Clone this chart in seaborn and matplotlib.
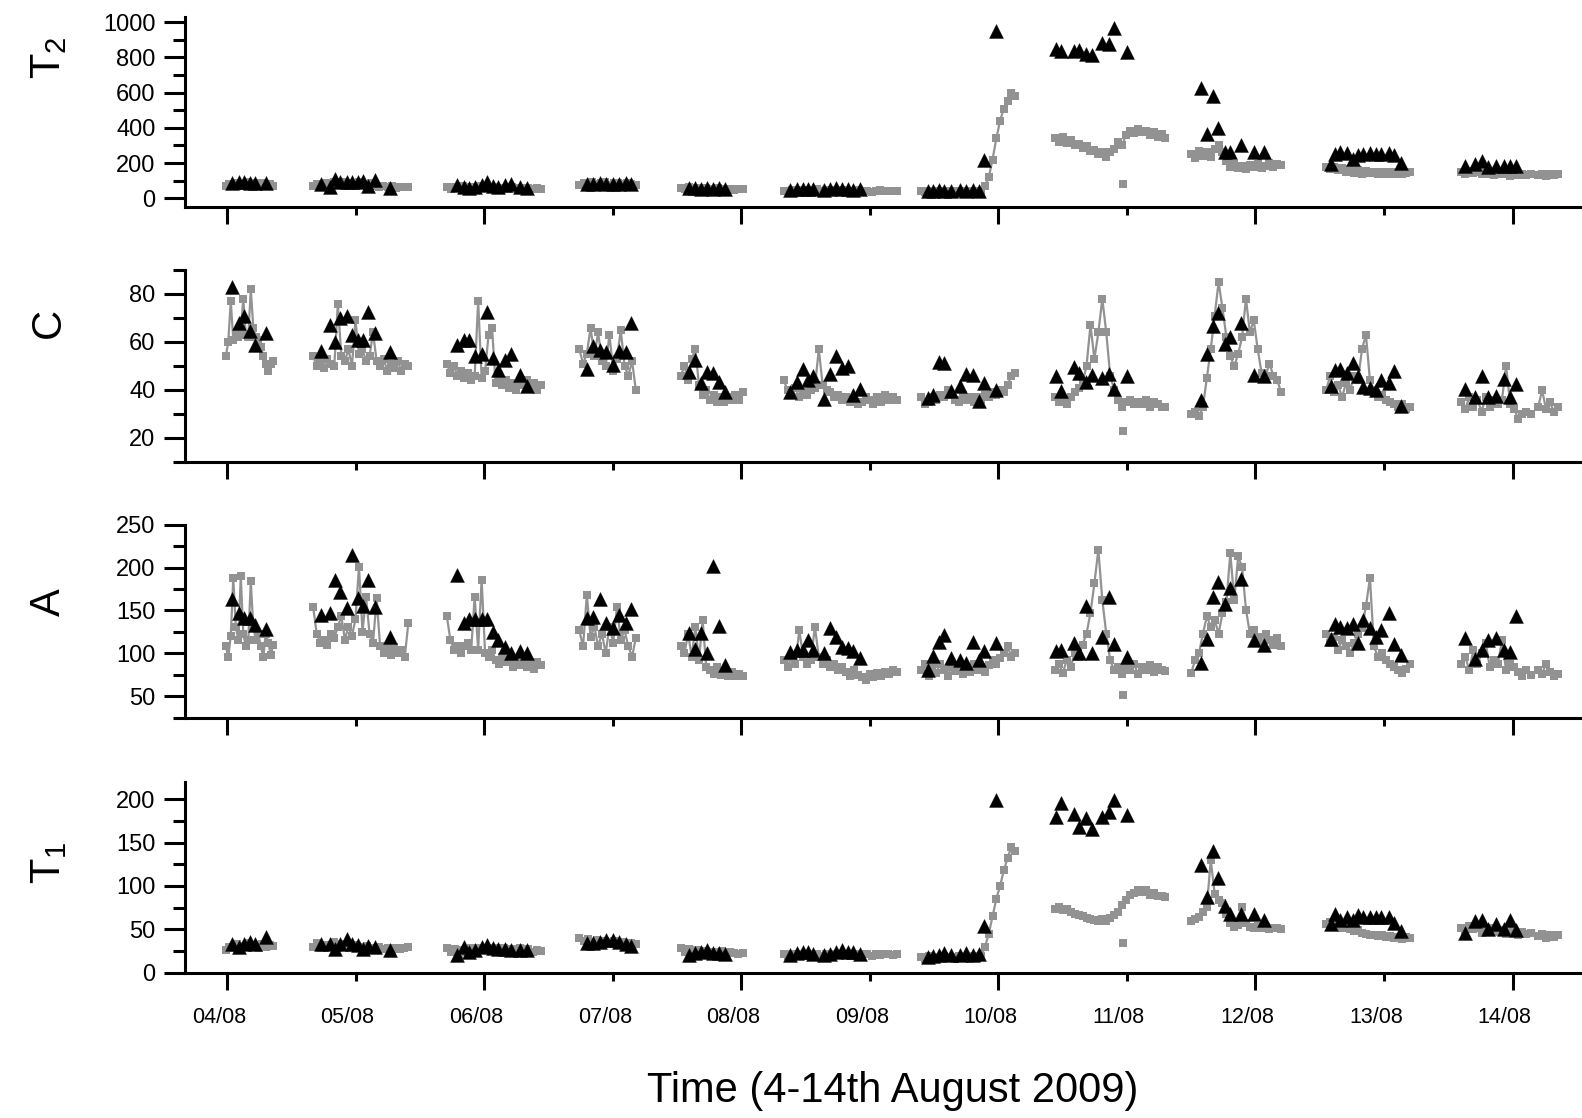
import numpy as np
import pandas as pd
import seaborn as sns
import matplotlib.pyplot as plt
import matplotlib.transforms as mtransforms
from matplotlib.ticker import MultipleLocator

# -----------------------------------------------
# Data (days of August 2009, fractional)
# -----------------------------------------------
day_ticks = [4, 5, 6, 7, 8, 9, 10, 11, 12, 13, 14]
day_labels = ['04/08', '05/08', '06/08', '07/08', '08/08', '09/08',
              '10/08', '11/08', '12/08', '13/08', '14/08']

# start / end of each continuous grey record (last one is a lone outlier)
seg_windows = [(3.99, 4.36), (4.67, 5.41), (5.71, 6.44), (6.74, 7.18),
               (7.53, 8.01), (8.33, 9.21), (9.40, 10.13), (10.44, 11.30),
               (11.50, 12.20), (12.55, 13.20), (13.60, 14.14), (14.20, 14.35),
               (10.97, 10.97)]

t2_grey = [
    [70, 82, 75, 88, 72, 80, 90, 76, 84, 78, 86, 74, 80, 72],
    [72, 80, 68, 85, 74, 90, 78, 95, 70, 88, 76, 92, 80, 74, 86, 70, 66, 72, 62, 68, 60, 66, 62, 64],
    [62, 55, 66, 58, 70, 54, 64, 60, 72, 56, 62, 58, 66, 52, 60, 55, 62, 50, 58, 54, 60, 52, 56, 54],
    [78, 88, 82, 92, 80, 86, 90, 78, 84, 88, 80, 86, 82, 76],
    [58, 52, 62, 55, 60, 50, 56, 54, 52, 56, 50, 54, 52, 48, 54, 50],
    [44, 40, 48, 42, 46, 38, 45, 42, 50, 40, 46, 44, 48, 42, 45, 40, 44, 42, 46, 40, 44, 38, 42, 45, 40, 44, 42, 40],
    [40, 36, 42, 38, 44, 36, 40, 38, 42, 36, 40, 44, 38, 42, 36, 40, 42, 70, 120, 220, 340, 440, 510, 555, 600, 580],
    [345, 320, 350, 315, 330, 300, 310, 285, 295, 270, 275, 250, 260, 235, 260, 280, 320, 300, 360, 385, 370, 395, 375, 385, 360, 375, 350, 365, 340],
    [250, 230, 270, 240, 260, 235, 280, 300, 260, 210, 180, 195, 170, 185, 165, 190, 175, 195, 170, 185, 200, 180, 195, 190],
    [180, 165, 175, 160, 170, 150, 165, 145, 160, 140, 155, 145, 150, 138, 152, 140, 148, 135, 150, 140, 145, 150],
    [150, 138, 155, 142, 150, 135, 145, 140, 130, 145, 135, 140, 128, 138, 132, 140, 130, 135],
    [130, 140, 125, 138, 130, 135],
    [80],
]

c_grey = [
    [54, 60, 77, 61, 64, 62, 65, 78, 63, 62, 82, 66, 62, 61, 58, 54, 51, 48, 51, 52],
    [54, 50, 52, 49, 53, 51, 50, 76, 54, 52, 57, 50, 69, 55, 57, 52, 54, 64, 52, 50, 53, 48, 51, 49, 52, 48, 51, 50],
    [51, 47, 50, 46, 48, 45, 47, 44, 46, 77, 45, 48, 63, 66, 43, 45, 42, 44, 41, 43, 40, 43, 42, 44, 41, 43, 40, 42],
    [57, 51, 55, 66, 54, 64, 52, 50, 63, 48, 53, 65, 50, 46, 52, 40],
    [46, 50, 44, 53, 57, 42, 38, 40, 36, 38, 35, 37, 35, 37, 36, 38, 36, 39],
    [44, 40, 38, 41, 37, 39, 38, 40, 41, 57, 42, 40, 39, 37, 38, 36, 37, 35, 36, 34, 35, 37, 36, 34, 37, 35, 38, 36, 37, 36],
    [37, 34, 35, 37, 36, 38, 37, 40, 38, 36, 35, 38, 36, 37, 35, 37, 36, 38, 37, 39, 38, 40, 39, 42, 46, 47],
    [37, 35, 36, 34, 37, 39, 41, 43, 50, 67, 53, 64, 78, 64, 46, 40, 36, 33, 35, 36, 34, 35, 34, 36, 33, 35, 34, 33, 33],
    [30, 31, 29, 33, 45, 57, 71, 85, 74, 62, 54, 50, 55, 62, 78, 64, 69, 57, 47, 46, 51, 46, 44, 39],
    [40, 46, 39, 42, 37, 43, 40, 46, 44, 57, 63, 44, 40, 37, 38, 36, 35, 34, 33, 34, 32, 33],
    [35, 32, 37, 33, 36, 31, 37, 33, 36, 34, 36, 50, 34, 32, 28, 30, 31, 30],
    [33, 40, 32, 35, 31, 33],
    [22.8],
]

a_grey = [
    [108, 96, 120, 188, 131, 116, 190, 123, 108, 115, 184, 131, 116, 123, 108, 96, 123, 112, 98, 110],
    [154, 123, 112, 116, 110, 123, 118, 131, 143, 116, 131, 120, 140, 201, 125, 166, 123, 112, 164, 108, 100, 108, 98, 107, 100, 104, 96, 135],
    [143, 116, 104, 108, 100, 108, 112, 104, 166, 104, 186, 100, 96, 104, 92, 88, 96, 90, 94, 84, 90, 86, 92, 84, 88, 82, 90, 86],
    [127, 108, 168, 119, 131, 108, 123, 100, 131, 112, 154, 116, 127, 108, 96, 118],
    [108, 100, 123, 96, 131, 92, 139, 84, 80, 76, 84, 75, 77, 73, 78, 74, 76, 73],
    [92, 84, 96, 88, 127, 96, 88, 92, 131, 96, 88, 92, 84, 88, 80, 84, 78, 73, 80, 75, 72, 69, 76, 72, 77, 73, 78, 76, 80, 78],
    [80, 88, 73, 84, 77, 88, 80, 73, 84, 79, 86, 76, 82, 78, 88, 80, 84, 78, 86, 92, 88, 95, 100, 108, 96, 100],
    [80, 88, 77, 92, 84, 100, 96, 110, 123, 147, 182, 221, 162, 123, 92, 80, 84, 76, 84, 80, 88, 76, 84, 80, 86, 78, 84, 80, 79],
    [77, 92, 100, 123, 143, 131, 139, 123, 147, 160, 217, 162, 213, 201, 151, 123, 127, 119, 112, 123, 116, 110, 118, 108],
    [123, 112, 119, 104, 116, 108, 100, 112, 123, 130, 155, 188, 108, 96, 100, 92, 88, 84, 80, 77, 82, 88],
    [88, 96, 80, 104, 88, 100, 112, 84, 92, 88, 115, 80, 88, 84, 78, 73, 80, 75],
    [80, 76, 88, 78, 73, 76],
    [51],
]

t1_grey = [
    [26, 30, 28, 33, 29, 31, 34, 30, 32, 28, 33, 30, 32, 31],
    [30, 34, 28, 32, 30, 35, 29, 33, 31, 28, 32, 30, 27, 31, 29, 26, 30, 27, 28, 26, 29, 27, 28, 30],
    [28, 24, 27, 22, 26, 24, 28, 25, 29, 26, 28, 27, 29, 26, 28, 25, 27, 26, 28, 25, 27, 24, 26, 25],
    [40, 36, 39, 35, 38, 34, 37, 35, 36, 33, 35, 32, 34, 33],
    [28, 24, 27, 23, 26, 24, 25, 22, 24, 23, 25, 22, 24, 23, 21, 23],
    [22, 19, 21, 20, 22, 19, 21, 20, 22, 19, 21, 20, 22, 21, 20, 22, 19, 21, 20, 22, 21, 19, 22, 20, 21, 22, 20, 21],
    [18, 16, 19, 17, 18, 16, 19, 17, 18, 16, 19, 17, 18, 16, 19, 17, 19, 30, 45, 65, 85, 100, 118, 132, 145, 140],
    [74, 76, 72, 73, 70, 68, 66, 65, 63, 62, 61, 60, 62, 60, 63, 66, 70, 78, 84, 90, 92, 95, 93, 95, 90, 92, 88, 89, 87],
    [60, 62, 64, 70, 76, 130, 91, 84, 80, 68, 57, 53, 55, 76, 57, 53, 52, 54, 51, 53, 50, 52, 51, 50],
    [56, 58, 54, 55, 52, 53, 50, 48, 49, 46, 45, 44, 43, 42, 44, 41, 42, 40, 41, 39, 41, 40],
    [52, 48, 54, 50, 52, 46, 50, 48, 51, 47, 49, 45, 48, 46, 44, 47, 45, 46],
    [42, 45, 40, 44, 41, 43],
    [34],
]

# sampling times of the black triangles (shared by all four panels)
tri_days = [4.04, 4.09, 4.13, 4.18, 4.22, 4.30,
            4.73, 4.80, 4.84, 4.88, 4.93, 4.97, 5.02, 5.06, 5.10, 5.15, 5.27,
            5.79, 5.84, 5.88, 5.93, 5.98, 6.02, 6.07, 6.11, 6.16, 6.21, 6.28, 6.33,
            6.80, 6.85, 6.90, 6.95, 7.00, 7.05, 7.10, 7.14,
            7.59, 7.64, 7.69, 7.73, 7.78, 7.83, 7.87,
            8.38, 8.43, 8.48, 8.52, 8.56, 8.64, 8.69, 8.74, 8.78, 8.83, 8.87, 8.92,
            9.45, 9.49, 9.54, 9.58, 9.63, 9.70, 9.75, 9.80, 9.85, 9.89, 9.98,
            10.45, 10.49, 10.59, 10.63, 10.68, 10.73, 10.81, 10.86, 10.90, 11.00,
            11.58, 11.62, 11.67, 11.71, 11.76, 11.80, 11.89, 11.99, 12.07,
            12.59, 12.62, 12.66, 12.71, 12.76, 12.80, 12.84, 12.89, 12.94, 12.98, 13.04, 13.08, 13.13,
            13.63, 13.71, 13.76, 13.81, 13.87, 13.93, 13.98, 14.03]

t2_tri = [88, 92, 90, 88, 86, 84,
          80, 65, 110, 90, 95, 90, 90, 100, 70, 105, 58,
          77, 62, 58, 62, 77, 90, 69, 62, 73, 81, 65, 58,
          82, 80, 84, 80, 82, 80, 84, 80,
          56, 58, 55, 57, 55, 56, 54,
          48, 52, 50, 55, 50, 45, 52, 58, 50, 52, 48, 50,
          40, 42, 46, 44, 43, 45, 42, 46, 44, 215, 950,
          850, 835, 835, 840, 820, 815, 880, 875, 965, 830,
          625, 365, 580, 400, 265, 265, 305, 265, 262,
          196, 250, 262, 255, 223, 244, 250, 258, 254, 250, 258, 246, 202,
          186, 196, 212, 177, 183, 186, 186, 183]

c_tri = [83, 68, 71, 64.7, 58.6, 63.7,
         56.4, 67, 60, 70, 70.7, 63, 61, 60.7, 72.4, 63.7, 55.7,
         58.9, 61, 61, 54, 55, 72.4, 53.3, 48.5, 52.6, 55, 46.4, 41.5,
         48.8, 58.5, 56.8, 56, 50.5, 56.4, 56, 68,
         47.4, 52.4, 42.9, 47.4, 47.1, 43.2, 39.3,
         39, 43.2, 48.9, 44.3, 45.7, 36.3, 46.7, 54, 49.2, 50.1, 38.1, 40.4,
         36.7, 38.1, 51.7, 51.3, 39.4, 41.8, 46.8, 46.4, 35.3, 43, 40,
         45.7, 39.4, 49.6, 47.1, 43.2, 46.4, 45, 46.7, 40.4, 45.7,
         35.7, 55, 66.8, 72, 59.2, 62.1, 68, 46.4, 46,
         41.8, 48.2, 48.9, 47.1, 51.3, 46, 41.3, 40.8, 39.9, 44.3, 43, 47.8, 33.5,
         40.4, 36.9, 46, 36.9, 37.6, 44.6, 36.9, 42.5]

a_tri = [163, 146.7, 141.6, 140.8, 133, 128,
         144.7, 146.7, 185.7, 172, 152.5, 215, 164.2, 155.3, 185, 153.7, 119.4,
         191.5, 135, 139.7, 139.7, 139.7, 139.7, 125.2, 115.5, 107.7, 100.7, 103, 100,
         140.8, 142.8, 163, 135, 129, 144.7, 135.8, 151.4,
         123.3, 104.6, 123.3, 100.7, 202, 132.3, 86.3,
         101.9, 103.8, 103.8, 115.5, 103.8, 100.7, 129.1, 119.4, 107.7, 105.8, 103, 94.1,
         80.4, 96.8, 113.5, 121.3, 94, 92, 88.2, 113.5, 92, 103, 112.4,
         103, 103.8, 112.4, 100.7, 155.3, 100, 119.4, 165.4, 110.4, 96,
         89, 116.3, 166.2, 183.7, 157.2, 175.9, 186.8, 115.5, 109.6,
         116.3, 134.2, 131, 129.1, 134.2, 111.6, 138.9, 129.9, 119.4, 127.2, 147.5, 110.4, 98,
         117.4, 93.7, 103.8, 115.5, 118.2, 103.8, 101.9, 143.6]

t1_tri = [33.5, 29.6, 32.7, 35.4, 33.5, 41,
          32.7, 32.7, 27.7, 33, 38.5, 33.5, 31.5, 27.7, 30.4, 29.6, 25.8,
          20.8, 29.6, 23.8, 25.8, 29.6, 31.5, 28.8, 27.7, 27.7, 26.5, 26.5, 25.8,
          34.2, 34.2, 35.4, 37.3, 37.3, 35.4, 32.7, 30.4,
          20, 22.7, 23.8, 25.8, 22.7, 22.7, 22,
          20, 22.7, 23.8, 23.8, 22, 20.8, 21.2, 23.8, 26.5, 23.8, 23.8, 21.9,
          18, 18.8, 20.8, 22.7, 20, 20.8, 22.7, 20.8, 21, 53.5, 199.6,
          179.6, 195.8, 183.5, 168, 178.5, 166, 179.6, 185.4, 198.8, 181.5,
          123.8, 87.3, 140, 109.6, 77, 67.3, 67.3, 67.3, 61.2,
          56.5, 67.3, 60.4, 64.2, 60.4, 66.2, 64.2, 64.2, 64.2, 64.2, 64.2, 57.7, 47.7,
          45.8, 59.6, 61.2, 50.8, 56.5, 50.8, 61.2, 49.6]

# -----------------------------------------------
# Style
# -----------------------------------------------
sns.set_style("ticks", rc={'axes.edgecolor': 'black', 'text.color': 'black',
                           'xtick.color': 'black', 'ytick.color': 'black',
                           'axes.labelcolor': 'black'})
plt.rcParams['font.family'] = ['Liberation Sans', 'DejaVu Sans']
plt.rcParams['mathtext.default'] = 'regular'

GREY = '#929292'


def grey_frame(segments):
    rows = []
    for k, (vals, (t0, t1)) in enumerate(zip(segments, seg_windows)):
        days = np.linspace(t0, t1, len(vals))
        for d, v in zip(days, vals):
            rows.append({'day': d, 'value': v, 'seg': k})
    return pd.DataFrame(rows)


panels = [
    # label, grey, triangles, ylim, major, minor, label y (fig frac), axes rect
    ('T$_2$', t2_grey, t2_tri, (-50, 1030), 200, 100, 0.948, [0.1167, 0.8148, 0.8833, 0.1700]),
    ('C', c_grey, c_tri, (10, 90), 20, 10, 0.711, [0.1167, 0.5868, 0.8833, 0.1717]),
    ('A', a_grey, a_tri, (25, 250), 50, 25, 0.461, [0.1167, 0.3582, 0.8833, 0.1724]),
    ('T$_1$', t1_grey, t1_tri, (0, 220), 50, 25, 0.228, [0.1167, 0.1300, 0.8833, 0.1706]),
]

fig = plt.figure(figsize=(15.82, 11.18), dpi=100)
label_shift = mtransforms.ScaledTranslation(-8 / 100, 0, fig.dpi_scale_trans)

for i, (lab, grey, tri, ylim, major, minor, ly, rect) in enumerate(panels):
    ax = fig.add_axes(rect)
    gdf = grey_frame(grey)
    sns.lineplot(data=gdf, x='day', y='value', units='seg', estimator=None,
                 sort=False, color=GREY, linewidth=1.6, marker='s',
                 markersize=5.5, markeredgewidth=0, legend=False, ax=ax)
    tdf = pd.DataFrame({'day': tri_days, 'value': tri})
    sns.scatterplot(data=tdf, x='day', y='value', marker='^', s=100,
                    color='black', edgecolor='black', linewidth=0.3,
                    legend=False, ax=ax, zorder=3)

    ax.set_xlim(3.67, 14.54)
    ax.set_ylim(*ylim)
    ax.yaxis.set_major_locator(MultipleLocator(major))
    ax.yaxis.set_minor_locator(MultipleLocator(minor))
    ax.set_xticks(day_ticks)
    ax.set_xticklabels(day_labels)

    sns.despine(ax=ax)
    for side in ['left', 'bottom']:
        ax.spines[side].set_linewidth(2.2)
    ax.tick_params(axis='y', which='major', direction='out', length=15,
                   width=2.2, labelsize=17, pad=6)
    ax.tick_params(axis='y', which='minor', direction='out', length=8.5, width=2.2)
    ax.tick_params(axis='x', which='major', direction='out', length=12,
                   width=2.2, labelsize=15.5, pad=13,
                   labelbottom=(i == len(panels) - 1))
    # odd days carry short ticks
    for d, tick in zip(day_ticks, ax.xaxis.get_major_ticks()):
        if d % 2 == 1:
            tick.tick1line.set_markersize(6)
    for t in ax.get_xticklabels():
        t.set_transform(t.get_transform() + label_shift)

    ax.set_xlabel('')
    ax.set_ylabel('')
    fig.text(0.031, ly, lab, rotation=90, ha='center', va='center', fontsize=30)

fig.text(0.564, 0.024, 'Time (4-14th August 2009)', ha='center', va='center',
         fontsize=30)

fig.savefig('out.png', dpi=100)
